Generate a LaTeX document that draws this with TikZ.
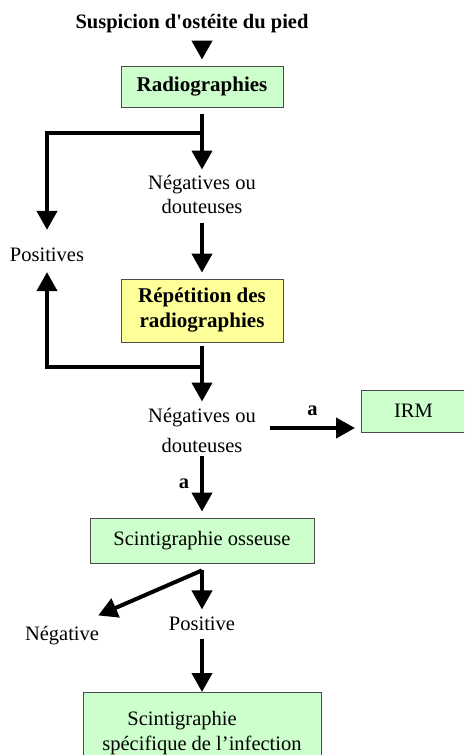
\documentclass[tikz,border=0pt]{standalone}
\usepackage{fontspec}
\setmainfont{Liberation Serif}[Ligatures=TeXOff]
\usetikzlibrary{arrows.meta}
\definecolor{lightgreen}{RGB}{204,255,204}
\definecolor{lightyellow}{RGB}{255,255,153}
\tikzset{
    flow/.style={line width=4pt,-{Triangle[length=19pt,width=20pt]}},
    box/.style={draw=black!70,line width=0.8pt,fill=lightgreen,inner sep=0pt,align=center},
    txt/.style={inner sep=0pt,align=center},
}
\begin{document}
\begin{tikzpicture}[x=1pt,y=-1pt,font=\fontsize{20.5}{24}\selectfont]
        \clip (0,0) rectangle (464,755);
        \fill[white] (0,0) rectangle (464,755);
        \node[txt,font=\fontsize{20.5}{24}\selectfont\bfseries] (susp) at (192,23.5) {Suspicion d'ostéite du pied};
        \node[box,minimum width=162pt,minimum height=41pt,font=\fontsize{21}{24}\selectfont\bfseries] (radio) at (202,86.5) {Radiographies};
        \node[txt] (neg1) at (202,194) {Négatives ou\\douteuses};
        \node[txt] (pos) at (47,255) {Positives};
        \node[box,fill=lightyellow,minimum width=162pt,minimum height=63pt,font=\fontsize{21}{25}\selectfont\bfseries] (rep) at (202,310.5) {Répétition des\\radiographies};
        \node[txt,font=\fontsize{20.5}{30}\selectfont] (neg2) at (202,430) {Négatives ou\\douteuses};
        \node[box,minimum width=105pt,minimum height=42pt] (irm) at (413.5,411) {IRM};
        \node[box,minimum width=224pt,minimum height=45pt] (osseuse) at (202,540.5) {Scintigraphie osseuse};
        \node[txt] (posit) at (202,623.5) {Positive};
        \node[txt] (nega) at (62,636) {Négative};
        \node[box,anchor=north,minimum width=238pt,inner ysep=19pt,text depth=40pt,align=left,font=\fontsize{20.5}{25}\selectfont] (spec) at (202,692) {\hspace*{25pt}Scintigraphie\\spécifique de l’infection};
        \coordinate (j1) at ([yshift=-26pt]radio.south);
        \coordinate (j2) at ([yshift=-25pt]rep.south);
        \coordinate (j3) at ([yshift=-7pt]osseuse.south);
        \draw[flow] (susp.south -| radio.north) ++(0,7.5) -- ([yshift=6pt]radio.north);
        \draw[flow] ([yshift=-7pt]radio.south) -- ([yshift=5pt]neg1.north);
        \draw[flow] (j1) -| ([yshift=18pt]pos.north);
        \draw[flow] ([yshift=-10pt]neg1.south) -- ([yshift=6pt]rep.north);
        \draw[flow] ([yshift=-4pt]rep.south) -- ([yshift=6pt]neg2.north);
        \draw[flow] (j2) -| ([yshift=-10pt]pos.south);
        \draw[flow] ([xshift=14pt,yshift=2pt]neg2.east) -- ++(85,0) node[midway,above=10pt,inner sep=0pt,font=\fontsize{20.5}{24}\selectfont\bfseries] {a};
        \draw[flow] ([yshift=-4pt]neg2.south) -- ([yshift=6pt]osseuse.north) node[midway,left=11pt,inner sep=0pt,font=\fontsize{20.5}{24}\selectfont\bfseries] {a};
        \draw[flow] (j3) -- ([yshift=7pt]posit.north);
        \draw[flow] (j3) -- ([xshift=-1pt,yshift=11pt]nega.north east);
        \draw[flow] ([yshift=-8pt]posit.south) -- (spec.north);
\end{tikzpicture}
\end{document}
